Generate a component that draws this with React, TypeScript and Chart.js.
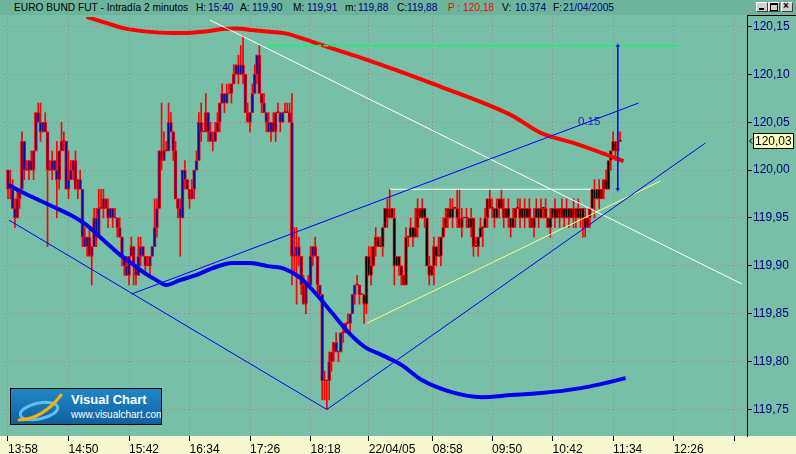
import React, { useEffect, useRef } from "react";
import { Chart, registerables } from "chart.js";

Chart.register(...registerables);

// ---------- data ----------
const TICK_BASE = 119.7; // price of tick 0
const TICK_SIZE = 0.01;
const FIRST_OPEN = 30;
const NEW_DAY_BAR = 153;

// closes, in ticks above TICK_BASE
const CLOSES = [
  28, 28, 26, 25, 27, 28, 33, 30, 30, 31,
  30, 32, 36, 35, 34, 35, 34, 30, 30, 31,
  30, 29, 32, 33, 33, 28, 29, 30, 31, 28,
  29, 28, 23, 22, 23, 21, 22, 25, 23, 26,
  26, 27, 26, 25, 26, 25, 25, 24, 23, 21,
  20, 19, 21, 22, 20, 19, 21, 22, 21, 20,
  20, 21, 22, 24, 26, 32, 31, 32, 32, 35,
  34, 32, 27, 26, 25, 30, 29, 28, 27, 28,
  30, 31, 35, 34, 34, 36, 34, 33, 33, 34,
  35, 37, 38, 37, 38, 38, 39, 40, 41, 40,
  41, 40, 36, 35, 36, 38, 40, 42, 38, 37,
  36, 35, 34, 35, 34, 36, 36, 35, 36, 36,
  36, 35, 21, 21, 22, 21, 18, 16, 18, 18,
  21, 22, 21, 18, 17, 8, 8, 8, 10, 11,
  12, 11, 11, 13, 13, 14, 14, 15, 17, 18,
  18, 17, 17, 16, 21, 19, 20, 22, 23, 22,
  22, 24, 26, 25, 26, 25, 20, 21, 20, 19,
  18, 23, 23, 24, 23, 24, 26, 25, 26, 25,
  20, 19, 20, 22, 21, 21, 23, 24, 25, 26,
  25, 26, 26, 25, 24, 25, 25, 25, 24, 25,
  22, 22, 23, 24, 24, 25, 27, 26, 26, 25,
  26, 27, 26, 25, 26, 25, 24, 25, 26, 26,
  25, 26, 25, 26, 25, 24, 25, 26, 25, 26,
  26, 25, 24, 25, 26, 25, 26, 25, 26, 25,
  26, 25, 26, 25, 26, 25, 26, 25, 24, 25,
  26, 28, 27, 28, 27, 28, 29, 28, 31, 32,
  33, 32, 33, 33,
];

// wick length above the body, in ticks
const HIGH_EXT = [
  0, 2, 1, 1, 1, 0, 1, 0, 1, 0,
  1, 0, 0, 1, 2, 0, 1, 0, 1, 1,
  0, 3, 0, 2, 1, 0, 3, 1, 0, 1,
  0, 1, 0, 1, 0, 1, 0, 1, 1, 2,
  2, 1, 0, 1, 0, 0, 1, 0, 1, 0,
  0, 1, 0, 1, 0, 0, 2, 1, 0, 0,
  1, 0, 0, 3, 1, 0, 5, 2, 1, 2,
  1, 0, 1, 0, 1, 0, 1, 0, 0, 1,
  0, 1, 1, 2, 0, 2, 0, 1, 1, 1,
  1, 0, 1, 0, 1, 1, 0, 1, 0, 1,
  2, 3, 0, 1, 0, 1, 1, 0, 1, 0,
  1, 0, 1, 0, 1, 0, 1, 0, 0, 1,
  1, 1, 3, 3, 2, 1, 0, 1, 0, 1,
  1, 0, 1, 0, 0, 0, 1, 0, 1, 0,
  0, 1, 0, 0, 1, 0, 1, 0, 0, 0,
  1, 0, 0, 0, 0, 1, 2, 0, 1, 0,
  1, 0, 0, 1, 2, 0, 1, 0, 0, 0,
  0, 1, 0, 1, 0, 2, 1, 0, 1, 0,
  0, 1, 0, 1, 0, 2, 0, 1, 1, 0,
  1, 1, 0, 2, 3, 1, 0, 1, 0, 1,
  0, 1, 0, 1, 0, 1, 0, 1, 1, 0,
  1, 0, 1, 1, 0, 1, 0, 1, 0, 1,
  1, 0, 1, 0, 1, 0, 1, 1, 0, 1,
  0, 1, 0, 1, 0, 1, 0, 0, 1, 0,
  1, 0, 0, 1, 0, 1, 0, 0, 1, 0,
  0, 0, 1, 0, 1, 0, 0, 1, 0, 0,
  1, 0, 1, 1,
];

// wick length below the body, in ticks
const LOW_EXT = [
  1, 1, 0, 1, 0, 1, 0, 1, 0, 1,
  0, 1, 0, 0, 1, 0, 0, 8, 0, 1,
  0, 4, 1, 0, 1, 0, 1, 0, 1, 0,
  1, 0, 1, 0, 1, 0, 3, 0, 1, 0,
  0, 1, 0, 1, 0, 1, 0, 1, 0, 1,
  1, 0, 1, 0, 2, 1, 0, 1, 0, 1,
  0, 1, 0, 0, 1, 0, 1, 0, 0, 0,
  0, 1, 0, 1, 4, 0, 1, 0, 1, 0,
  1, 0, 0, 1, 0, 0, 1, 0, 1, 0,
  0, 1, 0, 1, 0, 0, 1, 0, 0, 1,
  0, 1, 0, 0, 1, 0, 0, 1, 0, 1,
  0, 1, 0, 1, 0, 1, 0, 1, 0, 0,
  0, 0, 3, 2, 5, 1, 1, 0, 1, 0,
  0, 1, 0, 1, 0, 2, 2, 3, 2, 1,
  1, 0, 1, 0, 1, 0, 0, 1, 0, 1,
  0, 1, 0, 2, 1, 0, 1, 0, 1, 0,
  0, 1, 0, 1, 0, 0, 2, 0, 1, 1,
  0, 0, 1, 0, 1, 0, 1, 0, 0, 1,
  0, 1, 0, 2, 1, 0, 1, 0, 0, 1,
  0, 1, 0, 1, 0, 1, 0, 1, 0, 1,
  1, 0, 1, 0, 2, 0, 1, 0, 1, 1,
  0, 1, 0, 1, 0, 1, 1, 0, 1, 0,
  1, 0, 1, 0, 1, 0, 1, 0, 1, 0,
  1, 0, 0, 1, 0, 1, 0, 1, 0, 1,
  0, 1, 0, 1, 1, 0, 1, 2, 1, 0,
  1, 0, 2, 0, 1, 0, 1, 0, 0, 1,
  0, 1, 0, 0,
];

const Y_MIN = 119.7223;
const Y_MAX = 120.1599;
const Y_TICKS = [119.75, 119.8, 119.85, 119.9, 119.95, 120.0, 120.05, 120.1, 120.15];

const X_MIN = -1.709;
const X_MAX = 317.52;
const X_TICK_POS = [0, 26, 52, 78, 104, 130, 155, 182.5, 208, 234, 260, 286, 312];
const X_TICK_LABELS = ["13:58", "14:50", "15:42", "16:34", "17:26", "18:18", "22/04/05", "08:58", "09:50", "10:42", "11:34", "12:26", ""];

// moving averages: bar index / price
const RED_MA_X = [33.8, 41.0, 49.6, 62.4, 75.2, 83.8, 92.3, 97.9, 105.1, 112.4, 119.2, 126.5, 135.0, 152.1, 169.2, 186.3, 203.4, 216.2, 229.1, 243.2, 257.7, 264.5];
const RED_MA_Y = [120.1600, 120.1546, 120.1483, 120.1441, 120.1431, 120.1444, 120.1473, 120.148, 120.1462, 120.1444, 120.1428, 120.1375, 120.1305, 120.117, 120.1023, 120.0867, 120.071, 120.0574, 120.0386, 120.0282, 120.0157, 120.0094];

const BLUE_MA_X = [0.4, 6.8, 12.4, 19.7, 26.9, 33.8, 41.0, 48.3, 53.0, 58.1, 63.7, 67.9, 73.9, 80.8, 88.0, 96.6, 104.3, 111.5, 117.9, 125.2, 132.1, 139.3, 146.6, 153.4, 160.7, 169.2, 177.8, 190.6, 203.4, 216.2, 229.1, 246.2, 254.7, 265.4];
const BLUE_MA_Y = [119.9843, 119.976, 119.9697, 119.9614, 119.953, 119.9426, 119.9269, 119.9112, 119.9029, 119.8935, 119.8851, 119.8799, 119.8851, 119.8903, 119.8977, 119.9029, 119.9029, 119.8997, 119.8977, 119.8882, 119.8715, 119.8507, 119.8298, 119.8151, 119.8068, 119.7963, 119.7807, 119.7681, 119.7629, 119.765, 119.7671, 119.7723, 119.7765, 119.7828];

// drawn studies: bar index / price
const DOWN_LINE_X = [0.4, 137];
const DOWN_LINE_Y = [119.9478, 119.75];
const UP_LINE_X = [137, 299.6];
const UP_LINE_Y = [119.75, 120.0282];
const CHANNEL_X = [53, 270.9];
const CHANNEL_Y = [119.8705, 120.07];
const WHITE_DIAG_X = [86.75, 315.4];
const WHITE_DIAG_Y = [120.1567, 119.881];
const WHITE_FLAT_X = [164.1, 250.4];
const WHITE_FLAT_Y = [119.98, 119.98];
const GREEN_X = [111.5, 288.9];
const GREEN_Y = [120.13, 120.13];
const YELLOW_X = [154.3, 280.3];
const YELLOW_Y = [119.8402, 119.9885];
const MEASURE_X = [262, 262];
const MEASURE_Y = [120.13, 119.98];
const LAST_PRICE = 120.03;

// ---------- styling ----------
const GREEN_BG = "#77bfa7";
const HEADER_BG = "#6cb59c";
const CREAM = "#f8f8d0";
const GRID = "#a0848c";
const FONT = '"Liberation Sans", Arial, sans-serif';

const price = (t: number) => Math.round((TICK_BASE + t * TICK_SIZE) * 100) / 100;
const fmt = (v: number) => Number(v).toFixed(2).replace(".", ",");

const pts = (xs: number[], ys: number[]) => xs.map((x, i) => ({ x, y: ys[i] }));

const segment = (xs: number[], ys: number[], color: string, width: number, order: number, extra: any = {}) => ({
  type: "line",
  data: pts(xs, ys),
  borderColor: color,
  borderWidth: width,
  pointRadius: 0,
  fill: false,
  tension: 0,
  order,
  ...extra,
});

const bgPlugin = {
  id: "vcBackground",
  beforeDraw(chart: any) {
    const { ctx, width, height, chartArea } = chart;
    ctx.save();
    ctx.fillStyle = GREEN_BG;
    ctx.fillRect(0, 0, width, height);
    ctx.fillStyle = CREAM;
    ctx.fillRect(0, chartArea.bottom, width, height - chartArea.bottom);
    ctx.restore();
  },
};

const overlayPlugin = {
  id: "vcOverlay",
  afterDraw(chart: any) {
    const { ctx, chartArea, scales, width } = chart;
    ctx.save();
    ctx.strokeStyle = "#000";
    ctx.lineWidth = 1;
    ctx.beginPath();
    ctx.moveTo(chartArea.right + 0.5, 15);
    ctx.lineTo(chartArea.right + 0.5, chartArea.bottom + 1);
    ctx.moveTo(chartArea.right, 15.5);
    ctx.lineTo(width, 15.5);
    ctx.stroke();

    const y = Math.round(scales.y.getPixelForValue(LAST_PRICE));
    const x0 = chartArea.right + 6;
    ctx.fillStyle = "#ffffc0";
    ctx.fillRect(x0, y - 8, 41, 16);
    ctx.strokeRect(x0 + 0.5, y - 7.5, 40, 15);
    ctx.fillStyle = "#000";
    ctx.font = `12px ${FONT}`;
    ctx.textBaseline = "middle";
    ctx.textAlign = "left";
    ctx.fillText(fmt(LAST_PRICE), x0 + 2, y + 0.5);
    ctx.beginPath();
    ctx.moveTo(chartArea.right + 5, y - 2.5);
    ctx.lineTo(chartArea.right + 2.5, y);
    ctx.lineTo(chartArea.right + 5, y + 2.5);
    ctx.stroke();
    ctx.restore();
  },
};

function App() {
  const ref = useRef<HTMLCanvasElement | null>(null);

  useEffect(() => {
    if (!ref.current) return;
    const opens = CLOSES.map((c, i) => (i === 0 ? FIRST_OPEN : CLOSES[i - 1]));
    const bodies = CLOSES.map((c, i) => ({ x: i, y: [price(opens[i]), price(c)] }));
    const wicks = CLOSES.map((c, i) => ({
      x: i,
      y: [price(Math.min(opens[i], c) - LOW_EXT[i]), price(Math.max(opens[i], c) + HIGH_EXT[i])],
    }));
    const fills = CLOSES.map((_, i) => (i >= NEW_DAY_BAR ? "#000000" : "#0c0c96"));

    const chart = new Chart(ref.current, {
      type: "bar",
      data: {
        datasets: [
          segment(MEASURE_X, MEASURE_Y, "#1010e0", 1, 1, {
            pointRadius: 2.5,
            pointStyle: "triangle",
            pointRotation: [0, 180],
            pointBackgroundColor: "#1010e0",
            pointBorderColor: "#1010e0",
            pointBorderWidth: 0,
          }),
          segment(CHANNEL_X, CHANNEL_Y, "#0000ff", 1, 2),
          segment(UP_LINE_X, UP_LINE_Y, "#0000ff", 1, 2),
          segment(DOWN_LINE_X, DOWN_LINE_Y, "#0000ff", 1, 2),
          segment(WHITE_DIAG_X, WHITE_DIAG_Y, "#ffffff", 1, 2),
          segment(WHITE_FLAT_X, WHITE_FLAT_Y, "#ffffff", 1, 2),
          segment(GREEN_X, GREEN_Y, "#00ff66", 1.6, 2, { borderDash: [5, 2] }),
          segment(YELLOW_X, YELLOW_Y, "#ffff80", 1, 2),
          segment(RED_MA_X, RED_MA_Y, "#ff0000", 4, 5, { tension: 0.4, cubicInterpolationMode: "monotone" }),
          segment(BLUE_MA_X, BLUE_MA_Y, "#0000f0", 4, 6, { tension: 0.4, cubicInterpolationMode: "monotone" }),
          {
            type: "bar",
            data: bodies,
            backgroundColor: fills,
            borderColor: "#ff0000",
            borderWidth: 1,
            borderSkipped: false,
            barThickness: 3,
            minBarLength: 1,
            grouped: false,
            order: 9,
          },
          {
            type: "bar",
            data: wicks,
            backgroundColor: "#ff0000",
            borderWidth: 0,
            barThickness: 1,
            grouped: false,
            order: 10,
          },
        ] as any,
      },
      options: {
        animation: false,
        responsive: false,
        events: [],
        layout: { padding: { top: 17, left: 0, right: 0, bottom: 0 } },
        plugins: { legend: { display: false }, tooltip: { enabled: false }, title: { display: false } },
        scales: {
          x: {
            type: "linear",
            min: X_MIN,
            max: X_MAX,
            offset: false,
            afterBuildTicks: (s: any) => {
              s.ticks = X_TICK_POS.map((v) => ({ value: v }));
            },
            afterFit: (s: any) => {
              s.height = 18;
            },
            ticks: {
              autoSkip: false,
              maxRotation: 0,
              minRotation: 0,
              align: "start",
              padding: 1,
              color: "#000000",
              font: { family: FONT, size: 12 },
              callback: (_v: any, i: number) => X_TICK_LABELS[i] ?? "",
            },
            grid: {
              color: GRID,
              lineWidth: 1,
              offset: false,
              tickLength: 5,
              tickColor: "#000000",
              tickWidth: 1,
              tickBorderDash: [],
            },
            border: { display: false, dash: [1, 3] },
          },
          y: {
            type: "linear",
            position: "right",
            min: Y_MIN,
            max: Y_MAX,
            afterBuildTicks: (s: any) => {
              s.ticks = Y_TICKS.map((v) => ({ value: v }));
            },
            afterFit: (s: any) => {
              s.width = 49;
            },
            ticks: {
              padding: 1,
              color: "#000080",
              font: { family: FONT, size: 12 },
              callback: (v: any) => fmt(v),
            },
            grid: {
              color: GRID,
              lineWidth: 1,
              tickLength: 5,
              tickColor: "#000000",
              tickWidth: 1,
              tickBorderDash: [],
            },
            border: { display: false, dash: [1, 3] },
          },
        },
      } as any,
      plugins: [bgPlugin, overlayPlugin],
    });
    return () => chart.destroy();
  }, []);

  const seg = (text: string, left: number, color: string) => (
    <span style={{ position: "absolute", left, top: 2, color, whiteSpace: "nowrap" }}>{text}</span>
  );

  const btn = (left: number, glyph: React.ReactNode) => (
    <div
      style={{
        position: "absolute",
        left,
        top: 2,
        width: 12,
        height: 10,
        background: "#d4d0c8",
        borderStyle: "solid",
        borderWidth: 1,
        borderColor: "#ffffff #404040 #404040 #ffffff",
        boxSizing: "border-box",
      }}
    >
      {glyph}
    </div>
  );

  return (
    <div
      style={{
        position: "fixed",
        left: 0,
        top: 0,
        width: 796,
        height: 454,
        overflow: "hidden",
        fontFamily: FONT,
      }}
    >
      <canvas ref={ref} width={796} height={454} style={{ position: "absolute", left: 0, top: 0, display: "block" }} />
      <div
        style={{
          position: "absolute",
          left: 0,
          top: 0,
          width: 796,
          height: 15,
          background: HEADER_BG,
          fontSize: "10.2px",
          lineHeight: "12px",
        }}
      >
        {seg("EURO BUND FUT - Intradía 2 minutos", 14, "#000000")}
        {seg("H:", 196, "#000000")}
        {seg("15:40", 208, "#000080")}
        {seg("A:", 240, "#000000")}
        {seg("119,90", 252, "#000080")}
        {seg("M:", 293, "#000000")}
        {seg("119,91", 307, "#000080")}
        {seg("m:", 345, "#000000")}
        {seg("119,88", 358, "#000080")}
        {seg("C:", 397, "#000000")}
        {seg("119,88", 407, "#000080")}
        {seg("P : 120,18", 448, "#ff0000")}
        {seg("V:", 502, "#000000")}
        {seg("10.374", 515, "#000080")}
        {seg("F:", 553, "#000000")}
        {seg("21/04/2005", 563, "#000080")}
        {btn(756, <div style={{ position: "absolute", left: 2, top: 5, width: 5, height: 2, background: "#000" }} />)}
        {btn(768, <div style={{ position: "absolute", left: 1, top: 0, width: 6, height: 5, border: "1px solid #000", borderTopWidth: 2 }} />)}
        {btn(781, <div style={{ position: "absolute", left: 1, top: -3, fontSize: 10, fontWeight: "bold", lineHeight: "12px" }}>×</div>)}
      </div>
      <div style={{ position: "absolute", left: 578, top: 115, color: "#1818c8", fontSize: "11.5px", lineHeight: "12px" }}>0.15</div>
      <div
        style={{
          position: "absolute",
          left: 10,
          top: 388,
          width: 152,
          height: 37,
          boxSizing: "border-box",
          border: "1px solid #000",
          background: "linear-gradient(180deg, #2186c4 0%, #1773b3 55%, #0f5f9c 100%)",
          overflow: "hidden",
        }}
      >
        <svg width={54} height={36} style={{ position: "absolute", left: 2, top: 0 }}>
          <ellipse cx={26} cy={22} rx={19} ry={8} fill="none" stroke="#5fbff0" strokeWidth={3} transform="rotate(-12 26 22)" />
          <path d="M6 31 Q 30 30 48 6" fill="none" stroke="#f4b400" strokeWidth={3} strokeLinecap="round" />
        </svg>
        <div style={{ position: "absolute", left: 60, top: 3, color: "#ffffff", fontSize: 13, fontWeight: "bold", lineHeight: "15px", whiteSpace: "nowrap" }}>
          Visual Chart
        </div>
        <div style={{ position: "absolute", left: 60, top: 20, color: "#ffffff", fontSize: 10, lineHeight: "12px", whiteSpace: "nowrap" }}>
          www.visualchart.com
        </div>
      </div>
    </div>
  );
}

export default App;
